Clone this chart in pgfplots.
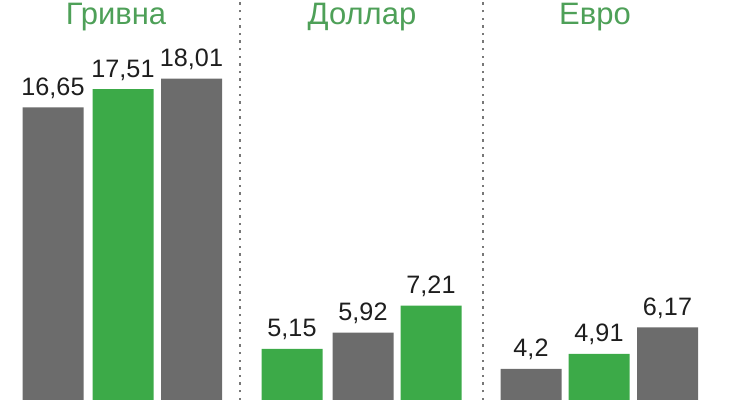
\documentclass[border=0pt]{standalone}
\usepackage{fontspec}
\setmainfont{Liberation Sans}
\usepackage{pgfplots}
\pgfplotsset{compat=1.18}

\definecolor{bargray}{RGB}{108,108,108}
\definecolor{bargreen}{RGB}{60,170,72}
\definecolor{headgreen}{RGB}{78,160,88}
\definecolor{numtext}{RGB}{30,30,30}
\definecolor{dotgray}{RGB}{120,120,120}

\begin{document}
\begin{tikzpicture}
  % 1 px of the reference = 0.5pt
  \begin{axis}[
    scale only axis,
    width=370pt, height=200pt,
    xmin=0, xmax=740,
    ymin=2.714, ymax=21.76,
    axis lines=none,
    ybar, bar width=61, bar shift=0pt,
    clip=true,
    /pgf/number format/assume math mode=true,
    nodes near coords={\pgfmathprintnumber[use comma,precision=2,assume math mode=true]{\pgfplotspointmeta}},
    every node near coord/.append style={anchor=base, yshift=6pt, inner sep=0pt,
      text=numtext, font=\fontsize{12.6}{14}\selectfont},
  ]
    % gray bars
    \addplot[fill=bargray, draw=none] coordinates {
      (53,16.65) (191.5,18.01) (363,5.92) (531,4.2) (667.5,6.17)
    };
    % green bars
    \addplot[fill=bargreen, draw=none] coordinates {
      (123,17.51) (292,5.15) (431,7.21) (599,4.91)
    };

    \draw[dotgray, line width=1.2pt, dash pattern=on 1.2pt off 2.6pt]
      (axis cs:240,2.714) -- (axis cs:240,21.76);
    \draw[dotgray, line width=1.2pt, dash pattern=on 1.2pt off 2.6pt]
      (axis cs:483,2.714) -- (axis cs:483,21.76);

    \node[anchor=base, text=headgreen, font=\fontsize{15.5}{18}\selectfont]
      at (axis cs:116,20.6) {Гривна};
    \node[anchor=base, text=headgreen, font=\fontsize{15.5}{18}\selectfont]
      at (axis cs:362,20.6) {Доллар};
    \node[anchor=base, text=headgreen, font=\fontsize{15.5}{18}\selectfont]
      at (axis cs:595,20.6) {Евро};
  \end{axis}
  \useasboundingbox (current axis.south west) rectangle (current axis.north east);
\end{tikzpicture}
\end{document}
